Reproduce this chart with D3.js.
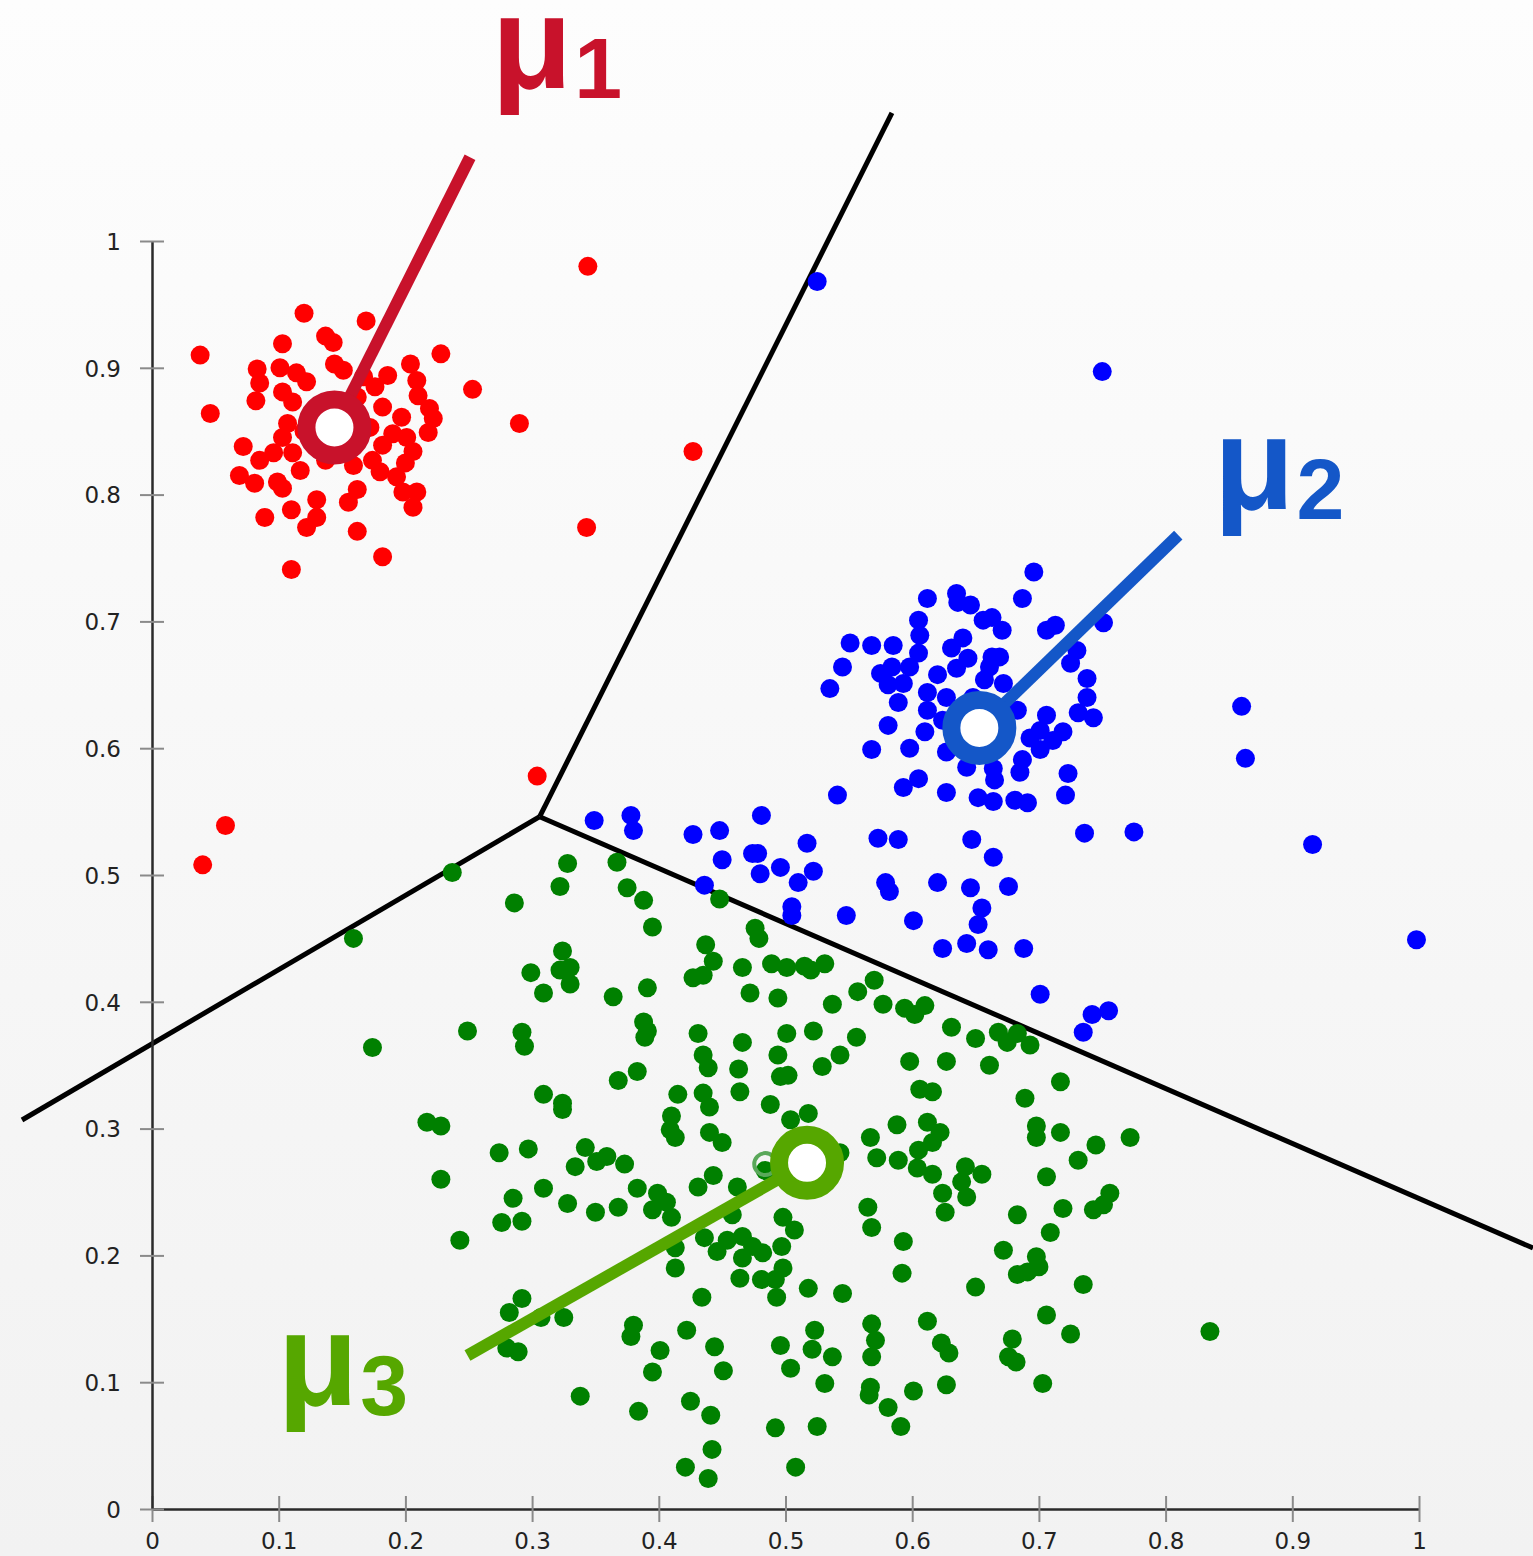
<!DOCTYPE html>
<html>
<head>
<meta charset="utf-8">
<style>
  body { margin: 0; background: #f7f7f7; }
  svg { display: block; }
</style>
</head>
<body>
<script src="https://d3js.org/d3.v7.min.js"></script>
<script>
// ---- data (axis units 0..1) ----
const xTicks = [0, 0.1, 0.2, 0.3, 0.4, 0.5, 0.6, 0.7, 0.8, 0.9, 1]
const yTicks = [0, 0.1, 0.2, 0.3, 0.4, 0.5, 0.6, 0.7, 0.8, 0.9, 1]

const redPoints = [
  [0.120,0.943],[0.169,0.937],[0.137,0.925],[0.143,0.920],[0.103,0.919],[0.038,0.910],[0.228,0.911],
  [0.204,0.903],[0.144,0.903],[0.083,0.899],[0.101,0.900],[0.114,0.896],[0.151,0.898],[0.122,0.889],
  [0.186,0.894],[0.167,0.893],[0.209,0.890],[0.176,0.885],[0.085,0.888],[0.103,0.881],[0.253,0.883],
  [0.210,0.878],[0.082,0.874],[0.162,0.877],[0.111,0.873],[0.182,0.869],[0.219,0.868],[0.046,0.864],
  [0.197,0.861],[0.222,0.860],[0.107,0.856],[0.218,0.849],[0.172,0.853],[0.190,0.848],[0.201,0.845],
  [0.103,0.845],[0.072,0.838],[0.182,0.839],[0.206,0.834],[0.085,0.827],[0.096,0.833],[0.111,0.833],
  [0.117,0.819],[0.137,0.827],[0.159,0.823],[0.174,0.827],[0.200,0.825],[0.069,0.815],[0.081,0.809],
  [0.099,0.810],[0.103,0.805],[0.180,0.818],[0.193,0.814],[0.198,0.802],[0.209,0.802],[0.206,0.790],
  [0.162,0.804],[0.155,0.794],[0.130,0.796],[0.110,0.788],[0.130,0.782],[0.089,0.782],[0.122,0.774],
  [0.162,0.771],[0.182,0.751],[0.110,0.741],
  [0.290,0.856],[0.344,0.980],[0.427,0.834],[0.343,0.774],[0.304,0.578],[0.058,0.539],[0.040,0.508],
  [0.140,0.860],[0.160,0.845],[0.120,0.850],[0.150,0.870]
]

const bluePoints = [
  [0.696,0.739],[0.612,0.718],[0.635,0.722],[0.636,0.715],[0.646,0.713],[0.687,0.718],[0.605,0.701],
  [0.656,0.701],[0.663,0.703],[0.671,0.693],[0.606,0.689],[0.706,0.693],[0.713,0.697],[0.751,0.699],
  [0.551,0.683],[0.568,0.681],[0.585,0.681],[0.631,0.679],[0.640,0.687],[0.605,0.675],[0.663,0.672],
  [0.669,0.672],[0.644,0.671],[0.730,0.677],[0.545,0.664],[0.575,0.659],[0.584,0.664],[0.598,0.664],
  [0.635,0.663],[0.661,0.664],[0.725,0.667],[0.620,0.658],[0.581,0.650],[0.593,0.651],[0.657,0.654],
  [0.672,0.651],[0.738,0.655],[0.535,0.647],[0.612,0.644],[0.627,0.640],[0.589,0.636],[0.612,0.630],
  [0.738,0.640],[0.683,0.630],[0.648,0.640],[0.706,0.626],[0.731,0.628],[0.743,0.624],[0.581,0.618],
  [0.610,0.613],[0.624,0.622],[0.701,0.614],[0.719,0.613],[0.693,0.608],[0.711,0.606],[0.568,0.599],
  [0.598,0.600],[0.627,0.597],[0.701,0.599],[0.643,0.585],[0.664,0.584],[0.687,0.591],[0.685,0.581],
  [0.723,0.580],[0.593,0.569],[0.605,0.576],[0.627,0.565],[0.665,0.575],[0.541,0.563],[0.652,0.561],
  [0.664,0.558],[0.681,0.559],[0.691,0.557],[0.721,0.563],[0.736,0.533],[0.517,0.525],[0.573,0.529],
  [0.589,0.528],[0.647,0.528],[0.664,0.514],
  [0.349,0.543],[0.378,0.547],[0.380,0.535],[0.427,0.532],[0.448,0.535],[0.481,0.547],[0.450,0.512],
  [0.474,0.517],[0.478,0.517],[0.496,0.506],[0.480,0.501],[0.522,0.503],[0.510,0.494],[0.436,0.492],
  [0.505,0.475],[0.505,0.468],[0.548,0.468],[0.579,0.494],[0.582,0.487],[0.601,0.464],[0.620,0.494],
  [0.646,0.490],[0.676,0.491],[0.655,0.474],[0.652,0.461],[0.624,0.442],[0.643,0.446],[0.660,0.441],
  [0.688,0.442],[0.701,0.406],[0.742,0.390],[0.755,0.393],[0.735,0.376],
  [0.525,0.968],[0.750,0.897],[0.860,0.633],[0.863,0.592],[0.916,0.524],[0.998,0.449],[0.775,0.534],
  [0.640,0.620],[0.660,0.610],[0.670,0.625],[0.655,0.630]
]

const greenPoints = [
  [0.237,0.502],[0.159,0.450],[0.328,0.509],[0.322,0.491],[0.286,0.478],[0.367,0.510],[0.375,0.490],
  [0.388,0.480],[0.395,0.459],[0.448,0.481],[0.437,0.445],[0.443,0.432],[0.427,0.419],[0.435,0.421],
  [0.324,0.440],[0.322,0.425],[0.330,0.427],[0.330,0.414],[0.299,0.423],[0.309,0.407],[0.364,0.404],
  [0.391,0.411],[0.388,0.384],[0.391,0.377],[0.389,0.372],[0.431,0.375],[0.435,0.358],[0.439,0.348],
  [0.249,0.377],[0.292,0.376],[0.294,0.365],[0.174,0.364],[0.368,0.338],[0.383,0.345],[0.309,0.327],
  [0.324,0.320],[0.324,0.315],[0.415,0.327],[0.435,0.328],[0.440,0.317],[0.410,0.310],[0.409,0.299],
  [0.217,0.305],[0.228,0.302],[0.440,0.297],[0.463,0.347],[0.494,0.358],[0.496,0.341],[0.502,0.342],
  [0.464,0.329],[0.488,0.319],[0.413,0.293],[0.450,0.289],[0.504,0.307],[0.274,0.281],[0.297,0.284],
  [0.342,0.285],[0.334,0.270],[0.351,0.274],[0.359,0.278],[0.373,0.272],[0.228,0.260],[0.309,0.253],
  [0.285,0.245],[0.276,0.226],[0.292,0.227],[0.328,0.241],[0.350,0.234],[0.368,0.238],[0.383,0.253],
  [0.399,0.249],[0.406,0.242],[0.395,0.236],[0.410,0.230],[0.431,0.254],[0.443,0.263],[0.462,0.254],
  [0.484,0.267],[0.458,0.232],[0.243,0.212],[0.498,0.230],[0.507,0.220],[0.436,0.214],[0.446,0.203],
  [0.454,0.212],[0.466,0.215],[0.474,0.207],[0.497,0.207],[0.413,0.206],[0.413,0.190],[0.466,0.198],
  [0.482,0.202],[0.464,0.182],[0.481,0.181],[0.498,0.190],[0.492,0.181],[0.292,0.166],[0.434,0.167],
  [0.493,0.167],[0.631,0.380],[0.650,0.371],[0.668,0.376],[0.683,0.375],[0.675,0.368],[0.693,0.366],
  [0.598,0.353],[0.627,0.353],[0.661,0.350],[0.717,0.337],[0.689,0.324],[0.606,0.331],[0.616,0.329],
  [0.501,0.375],[0.522,0.377],[0.556,0.372],[0.543,0.358],[0.529,0.349],[0.518,0.312],[0.543,0.281],
  [0.588,0.303],[0.612,0.305],[0.622,0.297],[0.616,0.289],[0.605,0.283],[0.567,0.293],[0.572,0.277],
  [0.589,0.275],[0.604,0.269],[0.616,0.264],[0.642,0.270],[0.655,0.264],[0.639,0.258],[0.624,0.249],
  [0.643,0.246],[0.626,0.234],[0.698,0.302],[0.698,0.293],[0.717,0.297],[0.745,0.287],[0.772,0.293],
  [0.731,0.275],[0.706,0.262],[0.756,0.249],[0.751,0.240],[0.743,0.236],[0.719,0.237],[0.565,0.238],
  [0.568,0.222],[0.683,0.232],[0.709,0.218],[0.518,0.174],[0.545,0.170],[0.593,0.211],[0.592,0.186],
  [0.672,0.204],[0.698,0.199],[0.700,0.191],[0.683,0.185],[0.691,0.187],[0.650,0.175],[0.735,0.177],
  [0.282,0.155],[0.307,0.151],[0.325,0.151],[0.280,0.127],[0.289,0.124],[0.380,0.145],[0.378,0.136],
  [0.401,0.125],[0.422,0.141],[0.444,0.128],[0.395,0.108],[0.451,0.109],[0.496,0.129],[0.523,0.141],
  [0.521,0.126],[0.537,0.120],[0.504,0.111],[0.531,0.099],[0.568,0.146],[0.571,0.133],[0.568,0.120],
  [0.612,0.148],[0.623,0.131],[0.629,0.123],[0.679,0.134],[0.676,0.120],[0.682,0.116],[0.706,0.153],
  [0.725,0.138],[0.703,0.099],[0.567,0.096],[0.566,0.090],[0.581,0.080],[0.601,0.093],[0.627,0.098],
  [0.591,0.065],[0.338,0.089],[0.384,0.077],[0.425,0.085],[0.441,0.074],[0.492,0.064],[0.525,0.065],
  [0.442,0.047],[0.421,0.033],[0.439,0.024],[0.508,0.033],
  [0.476,0.458],[0.479,0.450],[0.466,0.427],[0.472,0.407],[0.489,0.430],[0.501,0.427],[0.515,0.428],
  [0.520,0.425],[0.531,0.430],[0.494,0.403],[0.537,0.398],[0.557,0.408],[0.570,0.417],[0.577,0.398],
  [0.594,0.395],[0.602,0.390],[0.610,0.397],[0.466,0.368],[0.835,0.140],
  [0.510,0.280],[0.530,0.270]
]

// earlier position of the third centre (faint ring)
const oldCentre = [0.484, 0.272]

// cluster centres, where their labels sit and where the leader lines start
const centreNames = ["1", "2", "3"]
const centres = [[0.144, 0.853], [0.653, 0.616], [0.517, 0.273]]
const leaderStarts = [[0.251, 1.066], [0.810, 0.768], [0.249, 0.121]]
const labelAnchors = [[0.268, 1.121], [0.838, 0.789], [0.099, 0.082]]

// Voronoi boundary: meeting point and three far ends
const boundaryVertex = [0.306, 0.546]
const boundaryEnds = [[0.584, 1.101], [-0.1026, 0.3068], [1.09, 0.2058]]

// ---- drawing ----
const W = 1533, H = 1556
const red = "#ff0000", blue = "#0000ff", green = "#008000"
const centreColors = ["#c8122b", "#1457c8", "#56a700"]

const svg = d3.select("body").append("svg").attr("width", W).attr("height", H)

const grad = svg.append("defs").append("linearGradient")
  .attr("id", "bg").attr("x1", 0).attr("y1", 0).attr("x2", 0).attr("y2", 1)
grad.append("stop").attr("offset", "0%").attr("stop-color", "#fdfdfd")
grad.append("stop").attr("offset", "100%").attr("stop-color", "#f2f2f2")
svg.append("rect").attr("width", W).attr("height", H).attr("fill", "url(#bg)")

const xScale = d3.scaleLinear().domain([0, 1]).range([152, 1419])
const yScale = d3.scaleLinear().domain([0, 1]).range([1509, 241])

// boundary lines
svg.selectAll("line.boundary")
  .data(boundaryEnds)
  .enter()
  .append("line")
  .attr("class", "boundary")
  .attr("x1", xScale(boundaryVertex[0]))
  .attr("y1", yScale(boundaryVertex[1]))
  .attr("x2", d => xScale(d[0]))
  .attr("y2", d => yScale(d[1]))
  .attr("stroke", "#000")
  .attr("stroke-width", 5)

// axes
const fmt = d3.format("~g")
const xAxis = d3.axisBottom(xScale).tickValues(xTicks).tickFormat(fmt)
  .tickSizeInner(13).tickSizeOuter(0).tickPadding(11)
const yAxis = d3.axisLeft(yScale).tickValues(yTicks).tickFormat(fmt)
  .tickSizeInner(12).tickSizeOuter(0).tickPadding(19)

const xg = svg.append("g").attr("transform", "translate(0,1509)").call(xAxis)
const yg = svg.append("g").attr("transform", "translate(152,0)").call(yAxis)

xg.selectAll(".tick line").attr("y1", -13).attr("y2", 13)
yg.selectAll(".tick line").attr("x1", -12).attr("x2", 12)
;[xg, yg].forEach(g => {
  g.select("path.domain").attr("stroke", "#2a2a2a").attr("stroke-width", 2.5)
  g.selectAll(".tick line").attr("stroke", "#8a8a8a").attr("stroke-width", 2)
  g.selectAll(".tick text")
    .attr("fill", "#222")
    .style("font-family", "DejaVu Sans")
    .style("font-size", "23px")
})
yg.selectAll(".tick text").attr("dy", "0.36em")

// points
function drawPoints(cls, pts, color) {
  svg.selectAll("circle." + cls)
    .data(pts)
    .enter()
    .append("circle")
    .attr("class", cls)
    .attr("r", 9.5)
    .attr("cx", d => xScale(d[0]))
    .attr("cy", d => yScale(d[1]))
    .style("fill", color)
}
drawPoints("red", redPoints, red)
drawPoints("blue", bluePoints, blue)
drawPoints("green", greenPoints, green)

svg.append("circle")
  .attr("cx", xScale(oldCentre[0]))
  .attr("cy", yScale(oldCentre[1]))
  .attr("r", 11)
  .attr("fill", "none")
  .attr("stroke", "#5aa85a")
  .attr("stroke-width", 4)

// leader lines
svg.selectAll("line.leader")
  .data(centres)
  .enter()
  .append("line")
  .attr("class", "leader")
  .attr("x1", (d, i) => xScale(leaderStarts[i][0]))
  .attr("y1", (d, i) => yScale(leaderStarts[i][1]))
  .attr("x2", d => xScale(d[0]))
  .attr("y2", d => yScale(d[1]))
  .attr("stroke", (d, i) => centreColors[i])
  .attr("stroke-width", 12)

// centre rings
svg.selectAll("circle.centre")
  .data(centres)
  .enter()
  .append("circle")
  .attr("class", "centre")
  .attr("cx", d => xScale(d[0]))
  .attr("cy", d => yScale(d[1]))
  .attr("r", 28)
  .attr("fill", "#fff")
  .attr("stroke", (d, i) => centreColors[i])
  .attr("stroke-width", 18)

// labels
const labels = svg.selectAll("text.mu")
  .data(labelAnchors)
  .enter()
  .append("text")
  .attr("class", "mu")
  .attr("x", d => xScale(d[0]))
  .attr("y", d => yScale(d[1]))
  .attr("fill", (d, i) => centreColors[i])
  .style("font-family", "'Liberation Sans', Arimo, Arial, sans-serif")
  .style("font-weight", "bold")
  .style("font-size", "132px")
labels.append("tspan").text("μ")
labels.append("tspan")
  .attr("dy", 10)
  .attr("dx", 2)
  .style("font-size", "86px")
  .text((d, i) => centreNames[i])
</script>
</body>
</html>
